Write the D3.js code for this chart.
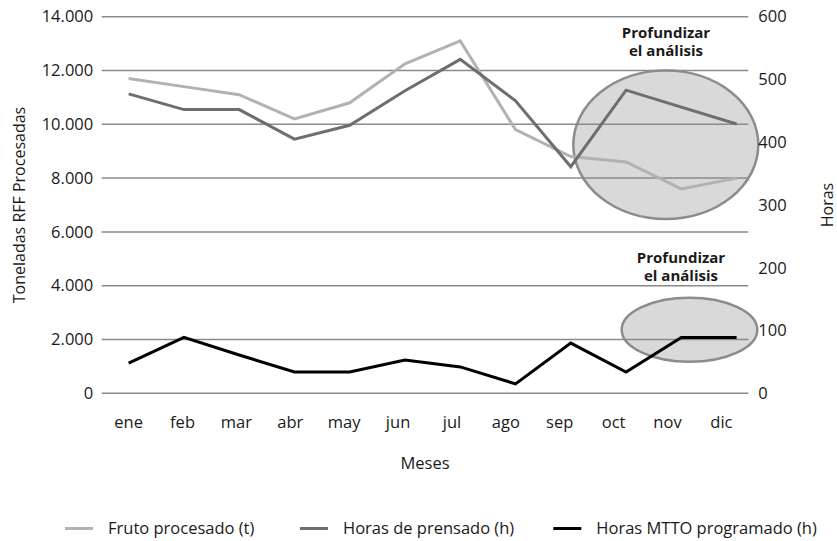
<!DOCTYPE html>
<html>
<head>
<meta charset="utf-8">
<script src="https://cdn.jsdelivr.net/npm/d3@7"></script>
<style>
  body { margin: 0; background: #fff; }
  text { font-family: "Open Sans", sans-serif; fill: #1a1a1a; }
</style>
</head>
<body>
<div id="chart"></div>
<script>
// data
const months = ['ene', 'feb', 'mar', 'abr', 'may', 'jun', 'jul', 'ago', 'sep', 'oct', 'nov', 'dic'];
const frutoProcesado = [11700, 11400, 11100, 10200, 10800, 12250, 13100, 9800, 8800, 8600, 7600, 8000];
const horasPrensado = [477, 452, 452, 405, 427, 482, 532, 466, 361, 483, 456, 429];
const horasMtto = [48, 89, 61, 34, 34, 53, 42, 15, 80, 34, 89, 89];
const leftTicks = [0, 2000, 4000, 6000, 8000, 10000, 12000, 14000];
const rightTicks = [0, 100, 200, 300, 400, 500, 600];
const legendLabels = ['Fruto procesado (t)', 'Horas de prensado (h)', 'Horas MTTO programado (h)'];
const noteText = ['Profundizar', 'el análisis'];

const width = 837, height = 541;
const margin = { top: 16.7, right: 88.7, bottom: 147.7, left: 101.7 };
const innerW = width - margin.left - margin.right;
const innerH = height - margin.top - margin.bottom;

const svg = d3.select('#chart').append('svg')
  .attr('width', width)
  .attr('height', height);

const g = svg.append('g').attr('transform', `translate(${margin.left},${margin.top})`);

// scales
const x = d3.scaleBand().domain(months).range([0, innerW]);
const xLine = d3.scalePoint().domain(months).range([x.bandwidth() / 2, innerW - 11.7]);
const yLeft = d3.scaleLinear().domain([0, 14000]).range([innerH, 0]);
const yRight = d3.scaleLinear().domain([0, 600]).range([innerH, 0]);

const fmt = d3.formatLocale({ decimal: ',', thousands: '.', grouping: [3], currency: ['', ''] }).format(',d');

// highlight ellipses (drawn behind grid and lines)
const notes = [
  { cx: 564.1, cy: 128.1, rx: 92.5, ry: 74.2, tx: 564.3, ty: 21.5 },
  { cx: 587.8, cy: 313, rx: 67.8, ry: 32, tx: 579.3, ty: 246 }
];
g.selectAll('.note-ellipse')
  .data(notes)
  .join('ellipse')
    .attr('class', 'note-ellipse')
    .attr('cx', d => d.cx)
    .attr('cy', d => d.cy)
    .attr('rx', d => d.rx)
    .attr('ry', d => d.ry)
    .attr('fill', '#d9d9d9')
    .attr('stroke', '#8c8c8c')
    .attr('stroke-width', 2.5);

// gridlines
g.selectAll('.grid')
  .data(leftTicks)
  .join('line')
    .attr('class', 'grid')
    .attr('x1', 0)
    .attr('x2', innerW)
    .attr('y1', d => yLeft(d))
    .attr('y2', d => yLeft(d))
    .attr('stroke', '#8a8a8a')
    .attr('stroke-width', 1.5);

// left axis
const leftAxis = g.append('g')
  .call(d3.axisLeft(yLeft).tickValues(leftTicks).tickFormat(fmt).tickSize(0).tickPadding(8.5));
leftAxis.select('.domain').remove();
leftAxis.selectAll('text')
  .style('font-family', '"Open Sans", sans-serif')
  .style('font-size', '16.5px')
  .attr('fill', '#1a1a1a');

// right axis
const rightAxis = g.append('g')
  .attr('transform', `translate(${innerW},0)`)
  .call(d3.axisRight(yRight).tickValues(rightTicks).tickSize(0).tickPadding(10));
rightAxis.select('.domain').remove();
rightAxis.selectAll('text')
  .style('font-family', '"Open Sans", sans-serif')
  .style('font-size', '16.5px')
  .attr('fill', '#1a1a1a');

// bottom axis
const bottomAxis = g.append('g')
  .attr('transform', `translate(0,${innerH})`)
  .call(d3.axisBottom(x).tickSize(0).tickPadding(23));
bottomAxis.select('.domain').remove();
bottomAxis.selectAll('text')
  .style('font-family', '"Open Sans", sans-serif')
  .style('font-size', '16.5px')
  .attr('fill', '#1a1a1a');

// series
const series = [
  { name: legendLabels[0], values: frutoProcesado, scale: yLeft, color: '#b2b2b2' },
  { name: legendLabels[1], values: horasPrensado, scale: yRight, color: '#6e6e6e' },
  { name: legendLabels[2], values: horasMtto, scale: yRight, color: '#000000' }
];

series.forEach(s => {
  const line = d3.line()
    .x((d, i) => xLine(months[i]))
    .y(d => s.scale(d));
  g.append('path')
    .datum(s.values)
    .attr('fill', 'none')
    .attr('stroke', s.color)
    .attr('stroke-width', 3)
    .attr('stroke-linejoin', 'miter')
    .attr('d', line);
});

// annotation text
notes.forEach(n => {
  const t = g.append('text')
    .attr('x', n.tx)
    .attr('y', n.ty)
    .attr('text-anchor', 'middle')
    .style('font-size', '15px')
    .style('font-weight', 'bold');
  noteText.forEach((line, i) => {
    t.append('tspan')
      .attr('x', n.tx)
      .attr('dy', i === 0 ? 0 : 18)
      .text(line);
  });
});

// axis titles
svg.append('text')
  .attr('transform', `translate(25,${margin.top + innerH / 2}) rotate(-90)`)
  .attr('text-anchor', 'middle')
  .style('font-size', '16px')
  .text('Toneladas RFF Procesadas');

svg.append('text')
  .attr('transform', `translate(833,${margin.top + innerH / 2}) rotate(-90)`)
  .attr('text-anchor', 'middle')
  .style('font-size', '16px')
  .text('Horas');

svg.append('text')
  .attr('x', margin.left + innerW / 2)
  .attr('y', 469)
  .attr('text-anchor', 'middle')
  .style('font-size', '16.5px')
  .text('Meses');

// legend
const legendX = [65, 300, 553.3];
const legend = svg.append('g').attr('class', 'legend');
series.forEach((s, i) => {
  const item = legend.append('g').attr('transform', `translate(${legendX[i]},528.5)`);
  item.append('line')
    .attr('x1', 0)
    .attr('x2', 28)
    .attr('stroke', s.color)
    .attr('stroke-width', 3);
  item.append('text')
    .attr('x', 43)
    .attr('dy', '0.35em')
    .style('font-size', '16.5px')
    .text(s.name);
});
</script>
</body>
</html>
